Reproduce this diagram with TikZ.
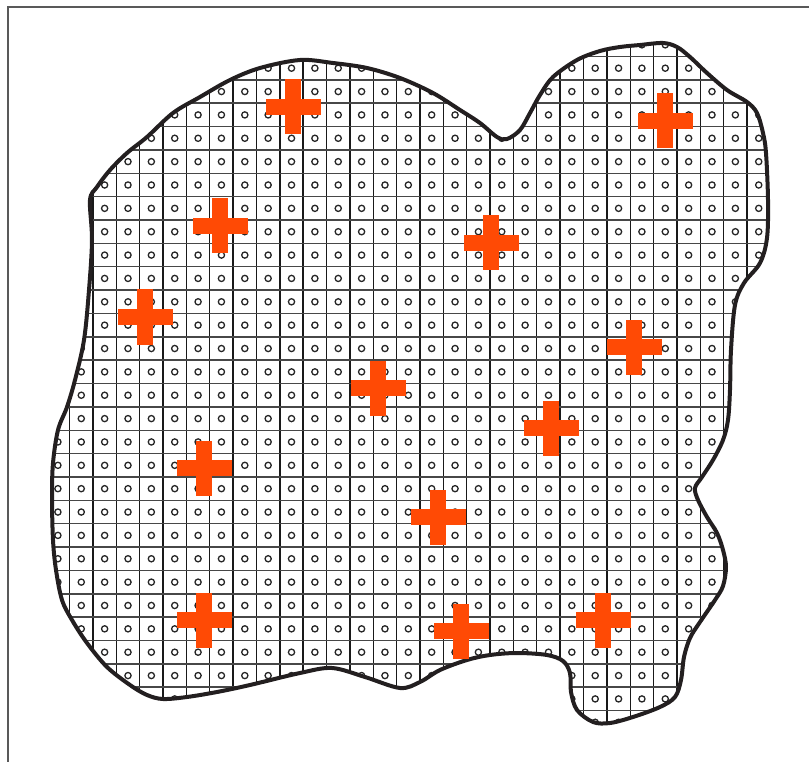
\documentclass[tikz,border=0pt]{standalone}
\begin{document}
\begin{tikzpicture}[x=1pt,y=-1pt]
\definecolor{crossred}{RGB}{255,74,5}
\definecolor{ink}{RGB}{35,31,32}
\tikzset{
  vline/.style={draw=black!90,line width=1.4pt},
  hline/.style={draw=black!72,line width=1.5pt},
  ring/.style={draw=black!85,line width=1.3pt},
  outline/.style={draw=ink,line width=4pt,line join=round},
  frame/.style={draw=black!65,line width=1.3pt},
  crossbar/.style={fill=crossred}
}
\useasboundingbox (0,0) rectangle (809,762);
\draw[frame] (8,762) -- (8,7) -- (809,7);
\begin{scope}
\clip plot[smooth cycle,tension=0.55] coordinates {
 (90,200) (97,187) (110,170) (127,153) (147,137) (173,113) (200,97) (230,80) (260,68) (300,60)
 (333,63) (367,68) (400,78) (433,93) (460,110) (480,123) (497,137) (507,139) (520,130) (530,113)
 (540,95) (553,77) (577,60) (600,51) (620,47) (640,45) (663,43) (677,47) (690,57) (707,73)
 (727,90) (747,102) (757,113) (763,133) (766,153) (768,200) (767,238) (760,263) (744,283) (735,305)
 (731,350) (730,390) (728,420) (723,440) (713,460) (702,477) (695,488) (698,500) (707,517) (717,533)
 (723,550) (726,567) (723,586) (715,600) (700,622) (690,638) (684,657) (681,680) (675,697) (660,707)
 (633,717) (610,723) (593,722) (577,710) (571,692) (570,673) (563,661) (547,655) (517,653) (490,655)
 (467,660) (440,670) (420,682) (400,688) (365,677) (332,668) (300,673) (250,685) (217,692) (187,697)
 (163,699) (147,695) (130,685) (107,667) (87,643) (72,620) (62,600) (56,570) (53,540) (52,497)
 (53,463) (58,430) (67,407) (75,380) (84,340) (89,290) (92,240)
};
\foreach \i in {-3,...,28} {
  \draw[vline] ({116.3+\i*23.36},30) -- ({116.3+\i*23.36},740);
}
\foreach \j in {-6,...,24} {
  \draw[hline] (40,{173.3+\j*23.36}) -- (790,{173.3+\j*23.36});
}
\foreach \i in {-3,...,27} {
  \foreach \j in {-6,...,23} {
    \draw[ring] ({128+\i*23.36},{185+\j*23.36}) circle[radius=3.1pt];
  }
}
\end{scope}
\draw[outline] plot[smooth cycle,tension=0.55] coordinates {
 (90,200) (97,187) (110,170) (127,153) (147,137) (173,113) (200,97) (230,80) (260,68) (300,60)
 (333,63) (367,68) (400,78) (433,93) (460,110) (480,123) (497,137) (507,139) (520,130) (530,113)
 (540,95) (553,77) (577,60) (600,51) (620,47) (640,45) (663,43) (677,47) (690,57) (707,73)
 (727,90) (747,102) (757,113) (763,133) (766,153) (768,200) (767,238) (760,263) (744,283) (735,305)
 (731,350) (730,390) (728,420) (723,440) (713,460) (702,477) (695,488) (698,500) (707,517) (717,533)
 (723,550) (726,567) (723,586) (715,600) (700,622) (690,638) (684,657) (681,680) (675,697) (660,707)
 (633,717) (610,723) (593,722) (577,710) (571,692) (570,673) (563,661) (547,655) (517,653) (490,655)
 (467,660) (440,670) (420,682) (400,688) (365,677) (332,668) (300,673) (250,685) (217,692) (187,697)
 (163,699) (147,695) (130,685) (107,667) (87,643) (72,620) (62,600) (56,570) (53,540) (52,497)
 (53,463) (58,430) (67,407) (75,380) (84,340) (89,290) (92,240)
};
\foreach \cx/\cy in {293/107, 665/121, 220/226, 491/243, 145/317, 634/347, 378/388,
                     551/428, 204/468, 438/517, 204/620, 461/631, 603/620} {
  \fill[crossbar] ({\cx-27.5},{\cy-8}) rectangle ({\cx+27.5},{\cy+8});
  \fill[crossbar] ({\cx-8},{\cy-27.5}) rectangle ({\cx+8},{\cy+27.5});
}
\end{tikzpicture}
\end{document}
